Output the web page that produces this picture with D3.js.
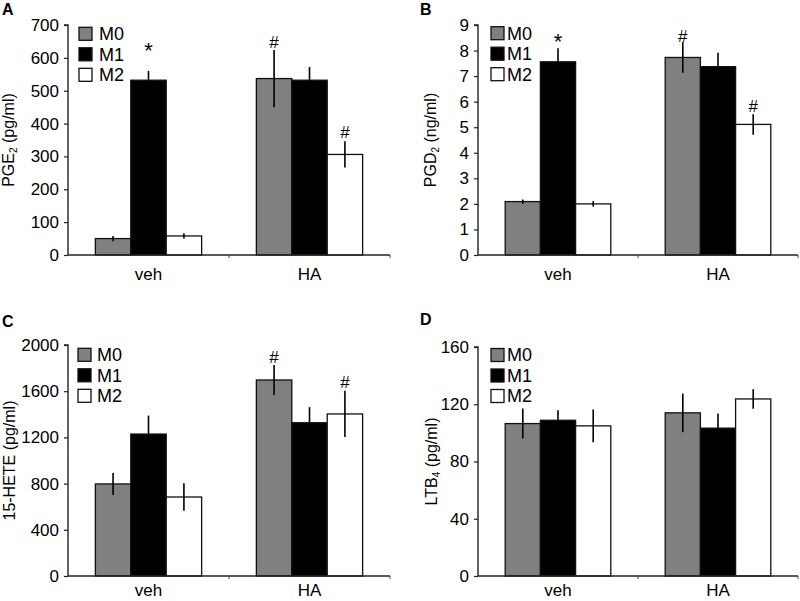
<!DOCTYPE html>
<html><head><meta charset="utf-8">
<script src="https://cdn.jsdelivr.net/npm/d3@7"></script>
<style>
body{margin:0;background:#fff}
svg{display:block}
text{font-family:"Liberation Sans",Arial,sans-serif;fill:#000}
</style>
</head><body>
<svg id="chart" width="800" height="601"></svg>
<script>
// ---------- data ----------
const categories = ["veh", "HA"];
const series = ["M0", "M1", "M2"];
const seriesColors = ["#808080", "#000000", "#ffffff"];

// values indexed [category][series]
const pgeValues = [[50, 532, 58], [537, 532, 306]];
const pgeErrors = [[8, 28, 8], [87, 40, 40]];
const pgeTicks = [0, 100, 200, 300, 400, 500, 600, 700];
const pgeMarks = [["veh", "M1", "*", 600], ["HA", "M0", "#", 630], ["HA", "M2", "#", 356]];

const pgdValues = [[2.09, 7.56, 2.0], [7.73, 7.37, 5.11]];
const pgdErrors = [[0.08, 0.53, 0.1], [0.6, 0.54, 0.4]];
const pgdTicks = [0, 1, 2, 3, 4, 5, 6, 7, 8, 9];
const pgdMarks = [["veh", "M1", "*", 8.06], ["HA", "M0", "#", 8.35], ["HA", "M2", "#", 5.61]];

const heteValues = [[797, 1229, 684], [1697, 1327, 1403]];
const heteErrors = [[95, 160, 118], [130, 135, 200]];
const heteTicks = [0, 400, 800, 1200, 1600, 2000];
const heteMarks = [["HA", "M0", "#", 1844], ["HA", "M2", "#", 1628]];

const ltbValues = [[106.5, 108.8, 104.9], [114, 103.3, 123.7]];
const ltbErrors = [[10.5, 7, 11.4], [13.5, 10.2, 6.8]];
const ltbTicks = [0, 40, 80, 120, 160];
const ltbMarks = [];

// ---------- panels (layout) ----------
const panels = [
  {letter: "A", label: ["PGE", "2", " (pg/ml)"], values: pgeValues, errors: pgeErrors, ticks: pgeTicks, marks: pgeMarks,
   x0: 68, x1: 390, yTop: 25, yBot: 255, lx: 2, ly: 15, labX: 14, legX: 79, legTxt: 99, legY: 27.3},
  {letter: "B", label: ["PGD", "2", " (ng/ml)"], values: pgdValues, errors: pgdErrors, ticks: pgdTicks, marks: pgdMarks,
   x0: 478, x1: 798, yTop: 25, yBot: 255, lx: 420, ly: 15, labX: 436, legX: 491, legTxt: 507, legY: 26.7},
  {letter: "C", label: ["15-HETE (pg/ml)"], values: heteValues, errors: heteErrors, ticks: heteTicks, marks: heteMarks,
   x0: 68, x1: 390, yTop: 345, yBot: 576, lx: 2, ly: 327, labX: 15, legX: 78, legTxt: 97, legY: 348.3},
  {letter: "D", label: ["LTB", "4", " (pg/ml)"], values: ltbValues, errors: ltbErrors, ticks: ltbTicks, marks: ltbMarks,
   x0: 478, x1: 798, yTop: 347, yBot: 576, lx: 420, ly: 325, labX: 437, legX: 491, legTxt: 507, legY: 348.5}
];

const svg = d3.select("#chart");

panels.forEach(p => {
  const g = svg.append("g");
  const ticks = p.ticks;
  const y = d3.scaleLinear().domain([0, ticks[ticks.length - 1]]).range([p.yBot, p.yTop]);
  const x = d3.scaleBand().domain(categories).range([p.x0, p.x1]).paddingInner(0.34).paddingOuter(0.17);
  const xs = d3.scaleBand().domain(series).range([0, x.bandwidth()]);

  // panel letter
  g.append("text").attr("x", p.lx).attr("y", p.ly).attr("font-size", 16).attr("font-weight", "bold").text(p.letter);

  // bars
  categories.forEach((c, ci) => {
    series.forEach((s, si) => {
      const v = p.values[ci][si];
      g.append("rect")
        .attr("x", x(c) + xs(s)).attr("y", y(v))
        .attr("width", xs.bandwidth()).attr("height", y(0) - y(v))
        .attr("fill", seriesColors[si]).attr("stroke", "#111").attr("stroke-width", 1.3);
    });
  });

  // error bars
  categories.forEach((c, ci) => {
    series.forEach((s, si) => {
      const v = p.values[ci][si], e = p.errors[ci][si];
      const cx = x(c) + xs(s) + xs.bandwidth() / 2;
      g.append("line").attr("x1", cx).attr("x2", cx).attr("y1", y(v - e)).attr("y2", y(v + e))
        .attr("stroke", "#000").attr("stroke-width", 1.6);
    });
  });

  // significance marks
  p.marks.forEach(([c, s, sym, at]) => {
    const cx = x(c) + xs(s) + xs.bandwidth() / 2;
    g.append("text").attr("x", cx).attr("y", y(at)).attr("text-anchor", "middle")
      .attr("font-size", sym === "*" ? 22 : 17).text(sym);
  });

  // y axis
  const yAxis = d3.axisLeft(y).tickValues(ticks).tickSize(4).tickPadding(5).tickFormat(d3.format("d"));
  const ya = g.append("g").attr("transform", `translate(${p.x0},0)`).call(yAxis);
  ya.attr("font-size", 17).attr("font-family", null);
  ya.select(".domain").attr("stroke", "#222").attr("stroke-width", 1.4).attr("d", `M-4,${p.yTop}H0V${p.yBot}`);
  ya.selectAll(".tick line").attr("stroke", "#222").attr("stroke-width", 1.2);
  ya.selectAll(".tick text").attr("font-size", 17).attr("fill", "#000");

  // x axis
  g.append("line").attr("x1", p.x0).attr("x2", p.x1).attr("y1", y(0)).attr("y2", y(0))
    .attr("stroke", "#222").attr("stroke-width", 1.4);
  [1, 2].forEach(i => {
    const tx = p.x0 + x.step() * i;
    g.append("line").attr("x1", tx).attr("x2", tx).attr("y1", y(0)).attr("y2", y(0) + 3)
      .attr("stroke", "#444").attr("stroke-width", 1);
  });
  categories.forEach(c => {
    g.append("text").attr("x", x(c) + x.bandwidth() / 2).attr("y", Math.min(y(0) + 25, 596))
      .attr("text-anchor", "middle").attr("font-size", 17).text(c);
  });

  // y label
  const lab = g.append("text").attr("transform", `translate(${p.labX},${(p.yTop + p.yBot) / 2}) rotate(-90)`)
    .attr("text-anchor", "middle").attr("font-size", 16);
  p.label.forEach((t, i) => {
    if (p.label.length === 3 && i === 1) {
      lab.append("tspan").attr("font-size", 10).attr("dy", 3).text(t);
    } else if (p.label.length === 3 && i === 2) {
      lab.append("tspan").attr("dy", -3).text(t);
    } else {
      lab.append("tspan").text(t);
    }
  });

  // legend
  series.forEach((s, si) => {
    const ty = p.legY + si * 20.5;
    g.append("rect").attr("x", p.legX).attr("y", ty).attr("width", 13).attr("height", 13)
      .attr("fill", seriesColors[si]).attr("stroke", "#111").attr("stroke-width", 1.3);
    g.append("text").attr("x", p.legTxt).attr("y", ty + 6.5).attr("dy", "0.36em")
      .attr("font-size", 18).text(s);
  });
});
</script>
</body></html>
